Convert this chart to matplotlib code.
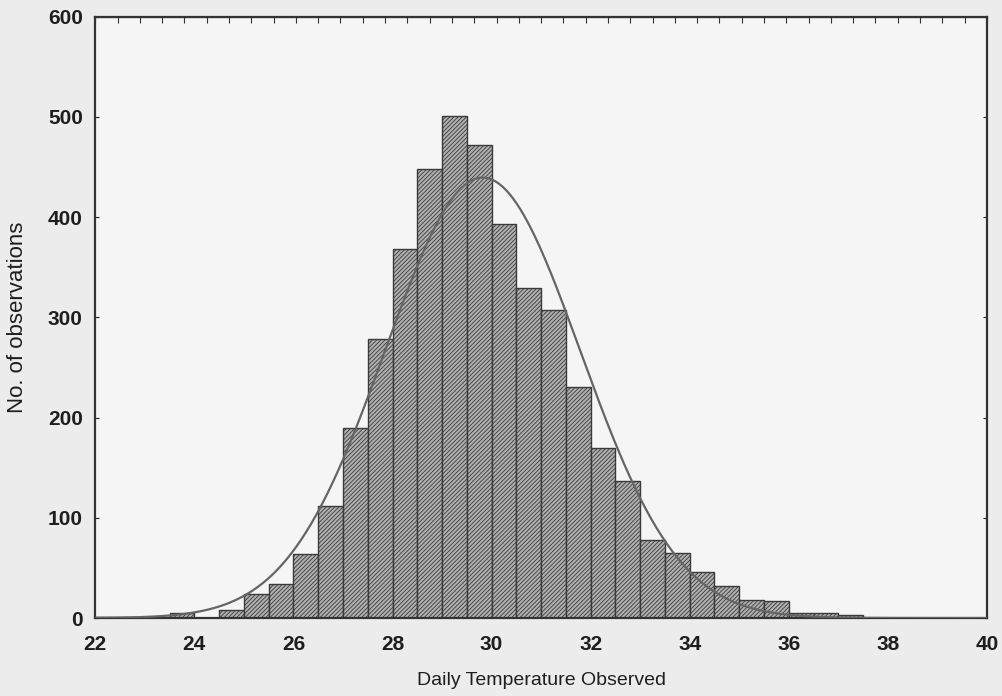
import numpy as np
import matplotlib.pyplot as plt

plt.rcParams['font.family'] = ['Liberation Sans', 'DejaVu Sans']
plt.rcParams['hatch.linewidth'] = 0.6

# Histogram of daily temperature, bins of 0.5 deg from 22 to 40
bin_left = np.arange(22.0, 40.0, 0.5)
counts = [1, 1, 1, 5, 0, 8, 24, 34, 64, 112, 190, 278, 368, 448, 501, 472,
          393, 329, 307, 231, 170, 137, 78, 65, 46, 32, 18, 17, 5, 5,
          3, 0, 0, 0, 0, 0]
bin_width = 0.5

x_ticks = [22, 24, 26, 28, 30, 32, 34, 36, 38, 40]
y_ticks = [0, 100, 200, 300, 400, 500, 600]

counts = np.array(counts)
centers = bin_left + bin_width / 2
n = counts.sum()
mean = (centers * counts).sum() / n
sd = np.sqrt(((centers - mean) ** 2 * counts).sum() / n)

fig = plt.figure(figsize=(10.03, 6.96), dpi=100, facecolor='#ececec')
ax = fig.add_axes([0.095, 0.112, 0.889, 0.864])
ax.set_facecolor('#f5f5f5')

ax.bar(bin_left, counts, width=bin_width, align='edge', color='#b0b0b0',
       edgecolor='#3a3a3a', linewidth=1.0, hatch='////////', zorder=2)

xs = np.linspace(22, 40, 500)
fit = n * bin_width / (sd * np.sqrt(2 * np.pi)) * np.exp(-0.5 * ((xs - mean) / sd) ** 2)
ax.plot(xs, fit, color='#656565', lw=1.6, zorder=3)

ax.set_xlim(22, 40)
ax.set_ylim(0, 600)
ax.set_xticks(x_ticks)
ax.set_yticks(y_ticks)
ax.tick_params(axis='x', length=0, labelsize=15, pad=12, colors='#1e1e1e')
ax.tick_params(axis='y', direction='in', length=3, labelsize=15, pad=9,
               colors='#1e1e1e', right=True)
for lab in ax.get_xticklabels() + ax.get_yticklabels():
    lab.set_fontweight('bold')
for s in ax.spines.values():
    s.set_linewidth(1.6)
    s.set_color('#333333')

top = ax.secondary_xaxis('top')
top.set_xticks(np.linspace(22, 40, 41))
top.tick_params(direction='in', length=4, labeltop=False, colors='#333333')

ax.set_xlabel('Daily Temperature Observed', fontsize=14, labelpad=13, color='#1e1e1e')
ax.set_ylabel('No. of observations', fontsize=16, labelpad=14, color='#1e1e1e')

fig.savefig('out.png', dpi=100, facecolor=fig.get_facecolor())
